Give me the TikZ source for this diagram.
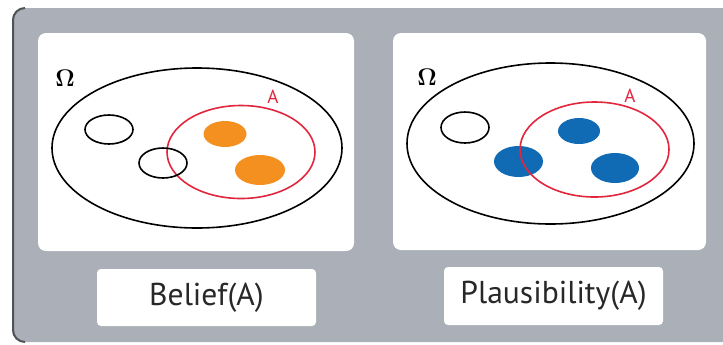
\documentclass[tikz,border=0pt]{standalone}
\usepackage{amsmath}
\usepackage{fontspec}
\setmainfont{PT Sans}
\usetikzlibrary{positioning, shapes.geometric}
\definecolor{grisfondo}{RGB}{170,175,184}
\definecolor{grisborde}{RGB}{80,82,88}
\definecolor{naranja}{RGB}{243,144,32}
\definecolor{azulbola}{RGB}{16,106,180}
\definecolor{rojoA}{RGB}{226,38,62}
\definecolor{textogris}{RGB}{40,40,40}

\begin{document}
\begin{tikzpicture}[
			x=0.5pt, y=-0.5pt,
			panel/.style = {
				rectangle,
				rounded corners=4pt,
				fill=white,
				inner sep=0pt
			},
			etiqueta/.style = {
				rectangle,
				rounded corners=2pt,
				fill=white,
				inner sep=0pt,
				text=textogris,
				font=\fontsize{15.8}{18}\selectfont
			},
			omega/.style = {inner sep=0pt, font=\fontsize{11.5}{12}\selectfont},
			conjunto/.style = {ellipse, draw=black, line width=0.8pt, inner sep=0pt},
			conjA/.style = {ellipse, draw=rojoA, line width=0.8pt, inner sep=0pt},
			bola/.style = {ellipse, inner sep=0pt}
			]
			
			\useasboundingbox (0,0) rectangle (723,344);
			
			% fondo gris
			\fill[grisfondo, rounded corners=6pt] (12,8) -- (740,8) -- (740,342) -- (12,342) -- cycle;
			\draw[grisborde, line width=1pt, rounded corners=6pt] (25,8) -- (13,8) -- (13,342) -- (25,342);
			
			% Belief
			\node[panel, minimum width=158pt, minimum height=109pt] (panelbel) at (196,142) {};
			\node[etiqueta, minimum width=109.5pt, minimum height=28.5pt] (belief) at (206.5,297.5) {Belief(A)};
			
			\node[conjunto, minimum width=145pt, minimum height=80pt] (omegabel) at (197,148) {};
			\node[omega] (ombel) at (65,78) {$\boldsymbol{\Omega}$};
			\node[conjunto, minimum width=24pt, minimum height=14.5pt] (cbel1) at (109,129.5) {};
			\node[bola, fill=naranja, minimum width=21.5pt, minimum height=13pt] (bbel1) at (225,134) {};
			\node[bola, fill=naranja, minimum width=25pt, minimum height=15pt] (bbel2) at (260,170) {};
			\node[conjA, minimum width=74pt, minimum height=46.5pt] (abel) at (241,152) {};
			\node[conjunto, minimum width=24pt, minimum height=15pt] (cbel2) at (163,163) {};
			\node[text=rojoA, font=\fontsize{9.5}{10}\selectfont, inner sep=0pt] (labbel) at (273,97) {A};
			
			% Plausibility
			\node[panel, minimum width=156.5pt, minimum height=108.5pt] (panelpl) at (549.5,141.5) {};
			\node[etiqueta, minimum width=109.5pt, minimum height=29pt] (plaus) at (553.5,296) {Plausibility(A)};
			
			\node[conjunto, minimum width=143.5pt, minimum height=80.5pt] (omegapl) at (550.5,143.5) {};
			\node[omega] (ompl) at (427,77) {$\boldsymbol{\Omega}$};
			\node[conjunto, minimum width=24pt, minimum height=15.5pt] (cpl1) at (465,127.5) {};
			\node[bola, fill=azulbola, minimum width=21pt, minimum height=13pt] (bpl1) at (579,131) {};
			\node[bola, fill=azulbola, minimum width=24.5pt, minimum height=15.5pt] (bpl2) at (518.5,161.5) {};
			\node[bola, fill=azulbola, minimum width=24pt, minimum height=15pt] (bpl3) at (615,168) {};
			\node[conjA, minimum width=74.5pt, minimum height=47.5pt] (apl) at (594.5,149.5) {};
			\node[text=rojoA, font=\fontsize{9.5}{10}\selectfont, inner sep=0pt] (labpl) at (630,96) {A};
			
		\end{tikzpicture}
\end{document}
